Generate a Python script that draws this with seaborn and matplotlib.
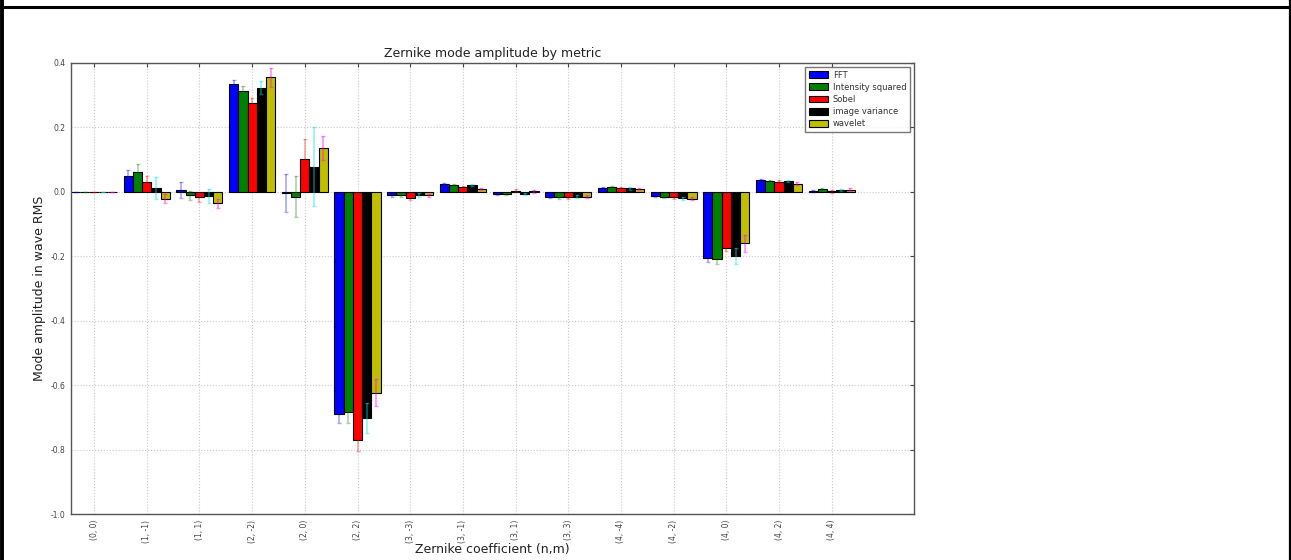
import numpy as np
import pandas as pd
import matplotlib
matplotlib.use("Agg")
import matplotlib.pyplot as plt
from matplotlib.lines import Line2D
import seaborn as sns

categories = ["(0, 0)", "(1, -1)", "(1, 1)", "(2, -2)", "(2, 0)", "(2, 2)", "(3, -3)",
              "(3, -1)", "(3, 1)", "(3, 3)", "(4, -4)", "(4, -2)", "(4, 0)", "(4, 2)", "(4, 4)"]
metrics = ["FFT", "Intensity squared", "Sobel", "image variance", "wavelet"]
ytick_values = [-1.0, -0.8, -0.6, -0.4, -0.2, 0.0, 0.2, 0.4]
ytick_labels = ["-1.0", "-0.8", "-0.6", "-0.4", "-0.2", "0.0", "0.2", "0.4"]

fft_vals = [0.0, 0.050, 0.006, 0.334, -0.002, -0.689, -0.011, 0.024, -0.007, -0.0145, 0.0135, -0.012, -0.204, 0.036, 0.003]
int_vals = [0.0, 0.062, -0.011, 0.312, -0.015, -0.683, -0.011, 0.021, -0.006, -0.017, 0.0145, -0.0145, -0.208, 0.035, 0.008]
sobel_vals = [0.0, 0.030, -0.017, 0.276, 0.103, -0.770, -0.019, 0.0145, 0.004, -0.017, 0.011, -0.017, -0.173, 0.032, 0.002]
var_vals = [0.0, 0.0125, -0.012, 0.323, 0.078, -0.701, -0.010, 0.021, -0.007, -0.0145, 0.011, -0.020, -0.199, 0.034, 0.006]
wav_vals = [0.0, -0.021, -0.035, 0.355, 0.136, -0.623, -0.011, 0.010, 0.002, -0.0145, 0.010, -0.021, -0.160, 0.026, 0.007]

fft_err = [0.001, 0.018, 0.024, 0.014, 0.059, 0.027, 0.004, 0.003, 0.003, 0.004, 0.003, 0.004, 0.015, 0.003, 0.003]
int_err = [0.001, 0.024, 0.015, 0.018, 0.064, 0.035, 0.004, 0.003, 0.003, 0.004, 0.003, 0.004, 0.017, 0.003, 0.003]
sobel_err = [0.001, 0.019, 0.013, 0.016, 0.062, 0.033, 0.005, 0.004, 0.004, 0.005, 0.003, 0.004, 0.010, 0.004, 0.004]
var_err = [0.001, 0.035, 0.022, 0.020, 0.122, 0.047, 0.005, 0.004, 0.004, 0.005, 0.004, 0.005, 0.024, 0.004, 0.003]
wav_err = [0.001, 0.015, 0.014, 0.030, 0.036, 0.041, 0.005, 0.003, 0.004, 0.004, 0.003, 0.004, 0.027, 0.006, 0.004]

bar_colors = ["#0000ff", "#008000", "#ff0000", "#000000", "#bfbf00"]
err_colors = [(0, 0, 1, 0.35), (0, 0.5, 0, 0.35), (1, 0, 0, 0.35), (0, 0.9, 0.9, 0.45), (1, 0, 1, 0.45)]

all_vals = [fft_vals, int_vals, sobel_vals, var_vals, wav_vals]
all_errs = [fft_err, int_err, sobel_err, var_err, wav_err]

rows = []
for m, vals in zip(metrics, all_vals):
    for c, v in zip(categories, vals):
        rows.append({"coef": c, "metric": m, "value": v})
df = pd.DataFrame(rows)

sns.set_style("white")
plt.rcParams['font.family'] = ['DejaVu Sans']

fig = plt.figure(figsize=(12.91, 5.60), dpi=100)
ax = fig.add_axes([0.055, 0.082, 0.653, 0.8055])

sns.barplot(data=df, x="coef", y="value", hue="metric", order=categories,
            hue_order=metrics, palette=bar_colors, width=0.875, errorbar=None,
            saturation=1, edgecolor="black", linewidth=0.8, ax=ax, zorder=2)

# error bars at the bar centres
for cont, errs, ec in zip(ax.containers, all_errs, err_colors):
    xs = [p.get_x() + p.get_width() / 2 for p in cont.patches]
    ys = [p.get_y() + p.get_height() for p in cont.patches]
    ax.errorbar(xs, ys, yerr=errs, fmt="none", ecolor=ec, elinewidth=1.2,
                capsize=1.5, capthick=1, zorder=3)

ax.set_xlim(-0.4375, 15.5625)
ax.set_ylim(-1.0, 0.4)
ax.set_yticks(ytick_values)
ax.set_yticklabels(ytick_labels)
ax.set_xticks(range(len(categories)))
ax.set_xticklabels(categories, rotation=90)
ax.tick_params(axis="both", labelsize=5.5, colors="#444444", length=3, direction="in",
               top=True, right=True, pad=4)
ax.grid(True, linestyle=":", color="#c8c8c8", linewidth=0.8, zorder=0)
ax.set_axisbelow(True)
for s in ax.spines.values():
    s.set_color("#555555")
    s.set_linewidth(1.0)

ax.set_title("Zernike mode amplitude by metric", fontsize=9, color="#222222", pad=4)
ax.set_xlabel("Zernike coefficient (n,m)", fontsize=9, color="#222222", labelpad=0)
ax.set_ylabel("Mode amplitude in wave RMS", fontsize=9, color="#222222", labelpad=3)

handles, labels = ax.get_legend_handles_labels()
leg = ax.legend(handles[:5], labels[:5], loc="upper right", fontsize=6.0,
                frameon=True, fancybox=False, edgecolor="#555555",
                handlelength=2.3, handleheight=0.9, borderpad=0.4,
                labelspacing=0.38, borderaxespad=0.5, handletextpad=0.6)
leg.get_frame().set_linewidth(1.0)
for t in leg.get_texts():
    t.set_color("#333333")

# frame around the picture
fig.add_artist(Line2D([0, 1], [1 - 7 / 560, 1 - 7 / 560], transform=fig.transFigure,
                      color="black", linewidth=2.2))
fig.add_artist(Line2D([2 / 1291, 2 / 1291], [0, 1], transform=fig.transFigure,
                      color="black", linewidth=2.8))
fig.add_artist(Line2D([1290 / 1291, 1290 / 1291], [0, 1], transform=fig.transFigure,
                      color="black", linewidth=1.6))

fig.savefig("out.png", dpi=100)
